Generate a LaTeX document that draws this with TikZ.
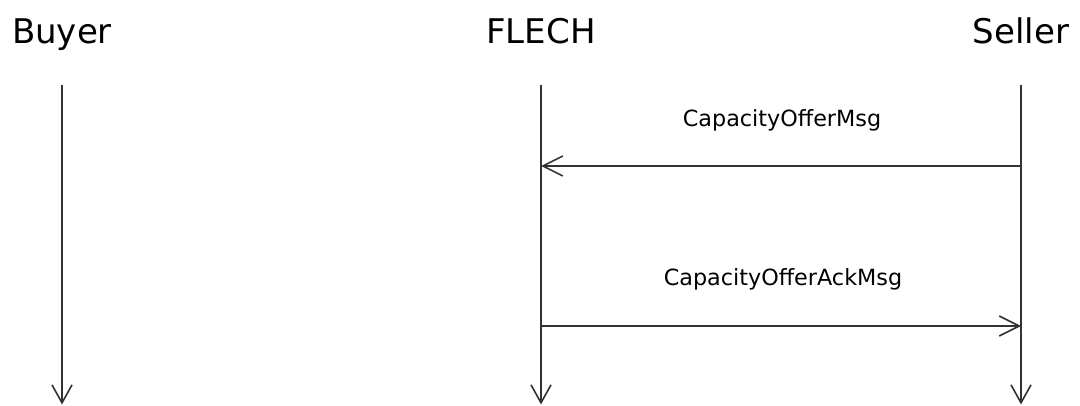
\documentclass[tikz,border=0pt]{standalone}
\usepackage{fontspec}
\setmainfont{DejaVu Sans}
\usetikzlibrary{arrows.meta}
\begin{document}
\begin{tikzpicture}[x=1pt,y=1pt,
  actor/.style={anchor=base,inner sep=0pt,font=\fontsize{34}{40}\selectfont},
  msglabel/.style={anchor=base,inner sep=0pt,font=\fontsize{22.3}{26}\selectfont},
  lifeline/.style={draw=black!80,line width=1.6pt,-{Straight Barb[length=18pt,width=20pt,line width=1.6pt]}},
  message/.style={draw=black!80,line width=1.6pt,-{Straight Barb[length=20pt,width=20pt,line width=1.6pt]}}]
  \useasboundingbox (0,0) rectangle (1080,405);
  % participants
  \node[actor] (buyer) at (62,361) {Buyer};
  \node[actor] (flech) at (541,361) {FLECH};
  \node[actor] (seller) at (1021,361) {Seller};
  % lifeline ends
  \coordinate (buyerTop) at (62,320);
  \coordinate (buyerEnd) at (62,0.5);
  \coordinate (flechTop) at (541,320);
  \coordinate (flechEnd) at (541,0.5);
  \coordinate (sellerTop) at (1021,320);
  \coordinate (sellerEnd) at (1021,0.5);
  \draw[lifeline] (buyerTop) -- (buyerEnd);
  \draw[lifeline] (flechTop) -- (flechEnd);
  \draw[lifeline] (sellerTop) -- (sellerEnd);
  % messages
  \coordinate (m1s) at (1021,239);
  \coordinate (m1e) at (541,239);
  \coordinate (m2s) at (541,79);
  \coordinate (m2e) at (1021,79);
  \draw[message] (m1s) -- (m1e);
  \draw[message] (m2s) -- (m2e);
  \node[msglabel] (offer) at (782,278) {CapacityOfferMsg};
  \node[msglabel] (ack) at (783,120) {CapacityOfferAckMsg};
\end{tikzpicture}
\end{document}
